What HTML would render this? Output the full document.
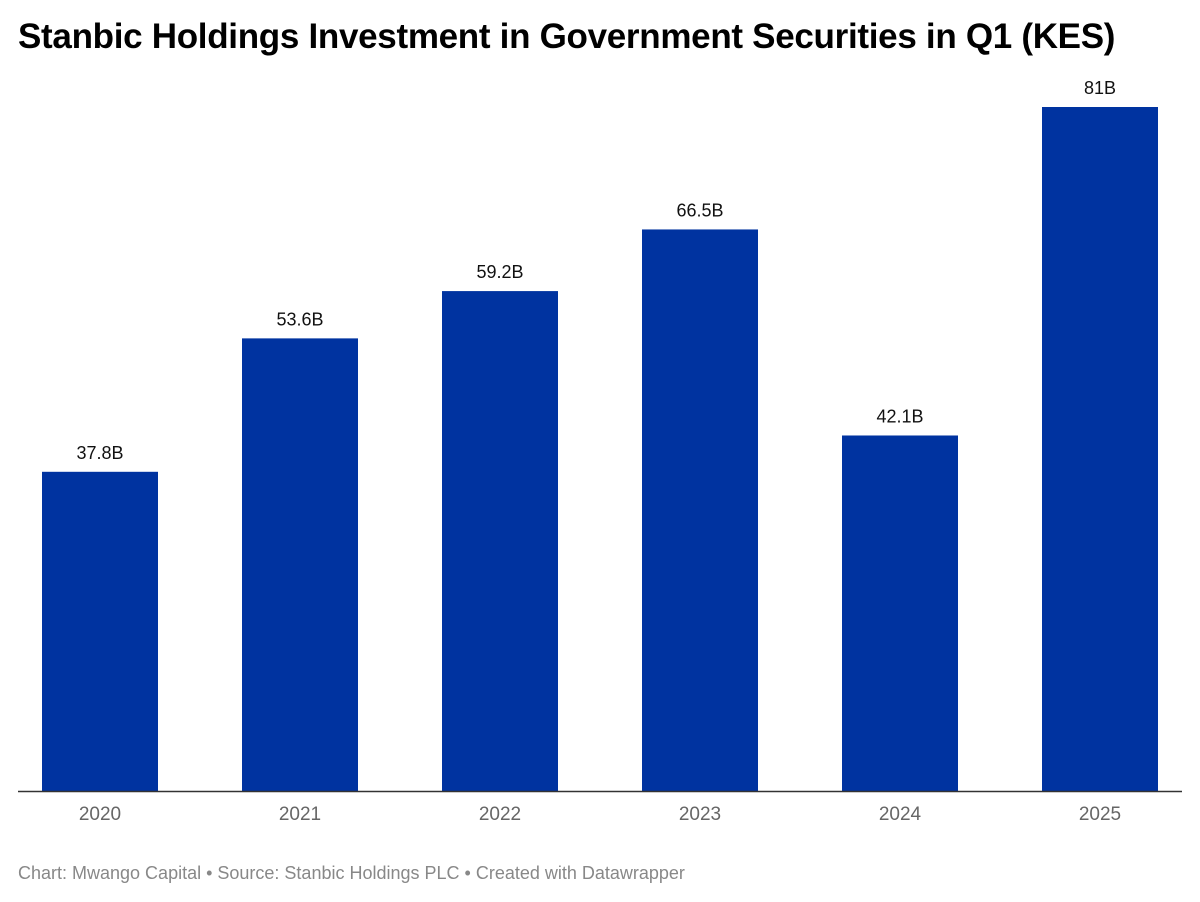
<!DOCTYPE html>
<html><head><meta charset="utf-8"><style>
body{margin:0;background:#fff;width:1200px;height:902px;overflow:hidden;font-family:"Liberation Sans",sans-serif;}
#title{position:absolute;left:18px;top:17px;font-size:35px;font-weight:bold;color:#000;letter-spacing:-0.3px;white-space:nowrap;}
#footer{position:absolute;left:18px;top:863px;font-size:18px;color:#888;white-space:nowrap;}
svg{position:absolute;left:0;top:0;}
</style></head><body>
<div id="title">Stanbic Holdings Investment in Government Securities in Q1 (KES)</div>
<svg id="chart" width="1200" height="902"></svg>
<div id="footer">Chart: Mwango Capital • Source: Stanbic Holdings PLC • Created with Datawrapper</div>
<script>
const categories = ["2020","2021","2022","2023","2024","2025"];
const values = [37.8,53.6,59.2,66.5,42.1,81];
const valueLabels = ["37.8B","53.6B","59.2B","66.5B","42.1B","81B"];
const NS="http://www.w3.org/2000/svg";
const svg=document.getElementById('chart');
const baseY=791, topY=107, maxV=81;
function y(v){return baseY-(v/maxV)*(baseY-topY);}
function x(i){return 42+i*200;}
const bw=116;
categories.forEach((c,i)=>{
  const r=document.createElementNS(NS,'rect');
  r.setAttribute('x',x(i));r.setAttribute('y',y(values[i]));
  r.setAttribute('width',bw);r.setAttribute('height',baseY-y(values[i]));
  r.setAttribute('fill','#0033a0');
  
  
  svg.appendChild(r);
  const t=document.createElementNS(NS,'text');
  t.setAttribute('x',x(i)+bw/2);t.setAttribute('y',y(values[i])-13);
  t.setAttribute('text-anchor','middle');t.setAttribute('font-size','18');t.setAttribute('fill','#111');
  t.textContent=valueLabels[i];
  
  
  svg.appendChild(t);
  const a=document.createElementNS(NS,'text');
  a.setAttribute('x',x(i)+bw/2);a.setAttribute('y',820);
  a.setAttribute('text-anchor','middle');a.setAttribute('font-size','19');a.setAttribute('fill','#666');
  a.textContent=c;
  
  
  svg.appendChild(a);
});
const l=document.createElementNS(NS,'line');
l.setAttribute('x1',18);l.setAttribute('x2',1182);l.setAttribute('y1',791.5);l.setAttribute('y2',791.5);
l.setAttribute('stroke','#333');l.setAttribute('stroke-width','1.5');


svg.appendChild(l);
</script>
</body></html>
